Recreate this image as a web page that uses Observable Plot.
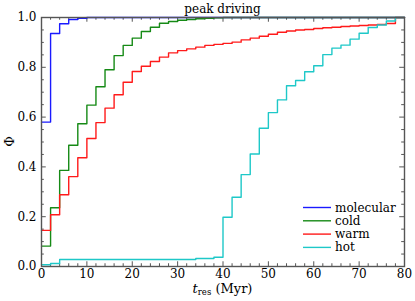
<!DOCTYPE html>
<html><head><meta charset="utf-8">
<script src="https://cdn.jsdelivr.net/npm/d3@7"></script>
<script src="https://cdn.jsdelivr.net/npm/@observablehq/plot@0.6"></script>
<style>html,body{margin:0;padding:0;background:#fff;}</style>
</head><body><div id="chart"></div>
<script>
const title = "peak driving";
const seriesNames = ["molecular", "cold", "warm", "hot"];
const seriesColors = ["#1a1aff", "#168a16", "#ff1a1a", "#1ec8c8"];
// left edges of 2-Myr bins
const binStart = [0,2,4,6,8,10,12,14,16,18,20,22,24,26,28,30,32,34,36,38,40,42,44,46,48,50,52,54,56,58,60,62,64,66,68,70,72,74,76,78];
const binEnd = 80;
const molecular = [0.580,0.936,0.975,0.992,0.997,1,1,1,1,1,1,1,1,1,1,1,1,1,1,1,1,1,1,1,1,1,1,1,1,1,1,1,1,1,1,1,1,1,1,1];
const cold = [0.082,0.236,0.386,0.487,0.573,0.648,0.722,0.790,0.847,0.888,0.917,0.944,0.961,0.977,0.984,0.989,0.992,0.995,0.997,0.999,1,1,1,1,1,1,1,1,1,1,1,1,1,1,1,1,1,1,1,1];
const warm = [0.145,0.208,0.288,0.361,0.437,0.514,0.578,0.636,0.690,0.740,0.783,0.804,0.823,0.841,0.858,0.867,0.874,0.881,0.888,0.892,0.896,0.901,0.910,0.917,0.925,0.933,0.941,0.946,0.950,0.952,0.956,0.959,0.961,0.964,0.966,0.968,0.970,0.972,0.976,1.000];
const hot = [0.007,0.012,0.028,0.028,0.028,0.028,0.028,0.028,0.028,0.028,0.028,0.028,0.028,0.028,0.028,0.028,0.028,0.032,0.032,0.037,0.198,0.278,0.369,0.452,0.555,0.618,0.669,0.726,0.747,0.782,0.806,0.851,0.877,0.889,0.913,0.937,0.960,0.970,0.986,1.000];
const xMajor = [0,10,20,30,40,50,60,70,80];
const xMinor = [2,4,6,8,12,14,16,18,22,24,26,28,32,34,36,38,42,44,46,48,52,54,56,58,62,64,66,68,72,74,76,78];
const yMajor = [0,0.2,0.4,0.6,0.8,1.0];
const yMinor = [0.05,0.1,0.15,0.25,0.3,0.35,0.45,0.5,0.55,0.65,0.7,0.75,0.85,0.9,0.95];

const seriesValues = [molecular, cold, warm, hot];
const rows = [];
seriesNames.forEach((name, k) => {
  const vals = seriesValues[k];
  binStart.forEach((t, i) => rows.push({series: name, t, v: vals[i]}));
  rows.push({series: name, t: binEnd, v: vals[vals.length - 1]});
});

const axisColor = "#555";
const font = "DejaVu Serif";
const W = 415, H = 301;

const chart = Plot.plot({
  width: W, height: H,
  marginLeft: 41, marginRight: 11, marginTop: 17, marginBottom: 35,
  style: {fontFamily: font, fontSize: "12px", background: "#fff", color: "#000"},
  x: {domain: [0, 80]},
  y: {domain: [0, 1]},
  color: {domain: seriesNames, range: seriesColors},
  marks: [
    // inward ticks
    Plot.ruleX(xMajor, {y1: 0, y2: 0.019, stroke: axisColor, strokeWidth: 1}),
    Plot.ruleX(xMinor, {y1: 0, y2: 0.011, stroke: axisColor, strokeWidth: 1}),
    Plot.ruleX(xMajor, {y1: 1, y2: 0.981, stroke: axisColor, strokeWidth: 1}),
    Plot.ruleX(xMinor, {y1: 1, y2: 0.989, stroke: axisColor, strokeWidth: 1}),
    Plot.ruleY(yMajor, {x1: 0, x2: 1.05, stroke: axisColor, strokeWidth: 1}),
    Plot.ruleY(yMinor, {x1: 0, x2: 0.62, stroke: axisColor, strokeWidth: 1}),
    Plot.ruleY(yMajor, {x1: 80, x2: 78.95, stroke: axisColor, strokeWidth: 1}),
    Plot.ruleY(yMinor, {x1: 80, x2: 79.38, stroke: axisColor, strokeWidth: 1}),
    Plot.axisX({ticks: xMajor, tickSize: 0, tickPadding: 3, label: null, tickFormat: d => String(d), fill: "#000"}),
    Plot.axisY({ticks: yMajor, tickSize: 0, tickPadding: 5, label: null, tickFormat: d3.format(".1f"), fill: "#000"}),
    Plot.line(rows, {x: "t", y: "v", z: "series", stroke: d => d.series, curve: "step-after", strokeWidth: 1.4}),
    Plot.frame({stroke: axisColor, strokeWidth: 1.4})
  ]
});
document.getElementById("chart").appendChild(chart);

const svg = d3.select(chart);
const sx = chart.scale("x"), sy = chart.scale("y");
const cx = (sx.apply(0) + sx.apply(80)) / 2;

// title
svg.append("text").attr("x", cx).attr("y", 13).attr("text-anchor", "middle")
  .attr("font-family", font).attr("font-size", 12).attr("fill", "#000").text(title);

// x label
const xl = svg.append("text").attr("x", cx).attr("y", 292.5).attr("text-anchor", "middle")
  .attr("font-family", font).attr("font-size", 13).attr("fill", "#000");
xl.append("tspan").attr("font-style", "italic").text("t");
xl.append("tspan").attr("font-size", 8.5).attr("dy", 2).text("res");
xl.append("tspan").attr("dy", -2).text(" (Myr)");

// y label
svg.append("text").attr("transform", `translate(13.5,${(sy.apply(0) + sy.apply(1)) / 2}) rotate(-90)`)
  .attr("text-anchor", "middle").attr("font-family", font).attr("font-size", 13).attr("fill", "#000").text("Φ");

// legend
const lg = svg.append("g");
seriesNames.forEach((name, k) => {
  const y = 207.5 + k * 13.3;
  lg.append("line").attr("x1", 303).attr("x2", 331).attr("y1", y).attr("y2", y)
    .attr("stroke", seriesColors[k]).attr("stroke-width", 1.4);
  lg.append("text").attr("x", 335).attr("y", y + 4).attr("text-anchor", "start").attr("font-family", font)
    .attr("font-size", 12).attr("fill", "#000").text(name);
});
</script>
</body></html>
